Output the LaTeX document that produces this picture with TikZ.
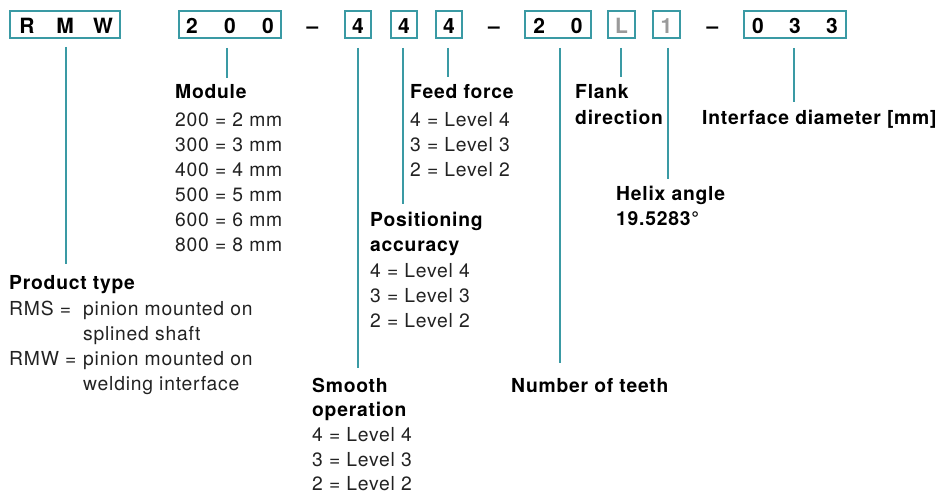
\documentclass[tikz,border=0pt]{standalone}
\usepackage{fontspec}
\setmainfont[LetterSpace=4]{TeX Gyre Heros}
\definecolor{bteal}{HTML}{3A9AA4}
\definecolor{txt}{HTML}{222222}
\definecolor{gch}{HTML}{9A9A9A}
\newcommand\chsp[1]{\makebox[0pt]{#1}}
\begin{document}
\begin{tikzpicture}[x=1pt,y=-1pt,
  box/.style={draw=bteal,line width=2pt,inner sep=0pt,minimum height=27pt,text height=17.6pt,text depth=0pt,font=\fontsize{21}{21}\selectfont\bfseries},
  conn/.style={draw=bteal,line width=2pt},
  hd/.style={anchor=base west,inner sep=0pt,font=\fontsize{19.3}{19.3}\selectfont\bfseries,text=black},
  it/.style={anchor=base west,inner sep=0pt,font=\fontsize{19.3}{19.3}\selectfont,text=txt},
  dsh/.style={anchor=base,inner sep=0pt,font=\fontsize{21}{21}\selectfont\bfseries}]
\useasboundingbox (0,0) rectangle (940,495);
% code boxes
\node[box,minimum width=110pt] (rmw) at (65,24.5) {\chsp{R}\hspace{38pt}\chsp{M}\hspace{38pt}\chsp{W}};
\node[box,minimum width=102pt] (mod) at (230,24.5) {\chsp{2}\hspace{38pt}\chsp{0}\hspace{38pt}\chsp{0}};
\node[dsh] (d1) at (312.5,33.3) {\textendash};
\node[box,minimum width=26pt] (sm) at (358,24.5) {4};
\node[box,minimum width=26pt] (pa) at (404,24.5) {4};
\node[box,minimum width=26pt] (ff) at (449,24.5) {4};
\node[dsh] (d2) at (494,33.3) {\textendash};
\node[box,minimum width=66pt] (nt) at (558,24.5) {\chsp{2}\hspace{37.5pt}\chsp{0}};
\node[box,minimum width=27pt,text=gch] (fl) at (621.5,24.5) {L};
\node[box,minimum width=27pt,text=gch] (hx) at (666.5,24.5) {1};
\node[dsh] (d3) at (712.5,33.3) {\textendash};
\node[box,minimum width=102pt] (id) at (795,24.5) {\chsp{0}\hspace{37pt}\chsp{3}\hspace{37pt}\chsp{3}};
% line ends
\coordinate (eRMW) at (66,264);
\coordinate (eMod) at (227,78);
\coordinate (eSm) at (358,368);
\coordinate (ePa) at (403,204);
\coordinate (eFf) at (448,77);
\coordinate (eNt) at (560,363);
\coordinate (eFl) at (621,77);
\coordinate (eHx) at (668,179);
\coordinate (eId) at (794,102);
\draw[conn] (rmw.south -| eRMW) ++(0,8) -- (eRMW);
\draw[conn] (mod.south -| eMod) ++(0,9) -- (eMod);
\draw[conn] (sm.south -| eSm) ++(0,9) -- (eSm);
\draw[conn] (pa.south -| ePa) ++(0,9) -- (ePa);
\draw[conn] (ff.south -| eFf) ++(0,9) -- (eFf);
\draw[conn] (nt.south -| eNt) ++(0,9) -- (eNt);
\draw[conn] (fl.south -| eFl) ++(0,9) -- (eFl);
\draw[conn] (hx.south -| eHx) ++(0,9) -- (eHx);
\draw[conn] (id.south -| eId) ++(0,9) -- (eId);
% Module
\node[hd] (m0) at (175,98.5) {Module};
\node[it] (m1) at (175,126) {200 = 2 mm};
\node[it] (m2) at (175,151) {300 = 3 mm};
\node[it] (m3) at (175,176) {400 = 4 mm};
\node[it] (m4) at (175,201) {500 = 5 mm};
\node[it] (m5) at (175,226) {600 = 6 mm};
\node[it] (m6) at (175,251) {800 = 8 mm};
% Feed force
\node[hd] (f0) at (410,98.5) {Feed force};
\node[it] (f1) at (410,126) {4 = Level 4};
\node[it] (f2) at (410,151) {3 = Level 3};
\node[it] (f3) at (410,176) {2 = Level 2};
% Flank direction
\node[hd] (l0) at (575,98.5) {Flank};
\node[hd] (l1) at (575,124.5) {direction};
% Interface diameter
\node[hd] (i0) at (702,124.5) {Interface diameter [mm]};
% Helix angle
\node[hd] (h0) at (616,200) {Helix angle};
\node[hd] (h1) at (616,225.5) {19.5283°};
% Positioning accuracy
\node[hd] (p0) at (370,226.5) {Positioning};
\node[hd] (p1) at (370,251.5) {accuracy};
\node[it] (p2) at (370,277) {4 = Level 4};
\node[it] (p3) at (370,302) {3 = Level 3};
\node[it] (p4) at (370,327) {2 = Level 2};
% Product type
\node[hd] (t0) at (9,289.5) {Product type};
\node[it] (t1) at (9,315) {RMS =};
\node[it] (t2) at (83,315) {pinion mounted on};
\node[it] (t3) at (83,340) {splined shaft};
\node[it] (t4) at (9,365) {RMW =};
\node[it] (t5) at (83,365) {pinion mounted on};
\node[it] (t6) at (83,390) {welding interface};
% Smooth operation
\node[hd] (s0) at (312,392) {Smooth};
\node[hd] (s1) at (312,416.5) {operation};
\node[it] (s2) at (312,441.5) {4 = Level 4};
\node[it] (s3) at (312,466) {3 = Level 3};
\node[it] (s4) at (312,490.5) {2 = Level 2};
% Number of teeth
\node[hd] (n0) at (511,392) {Number of teeth};
\end{tikzpicture}
\end{document}
